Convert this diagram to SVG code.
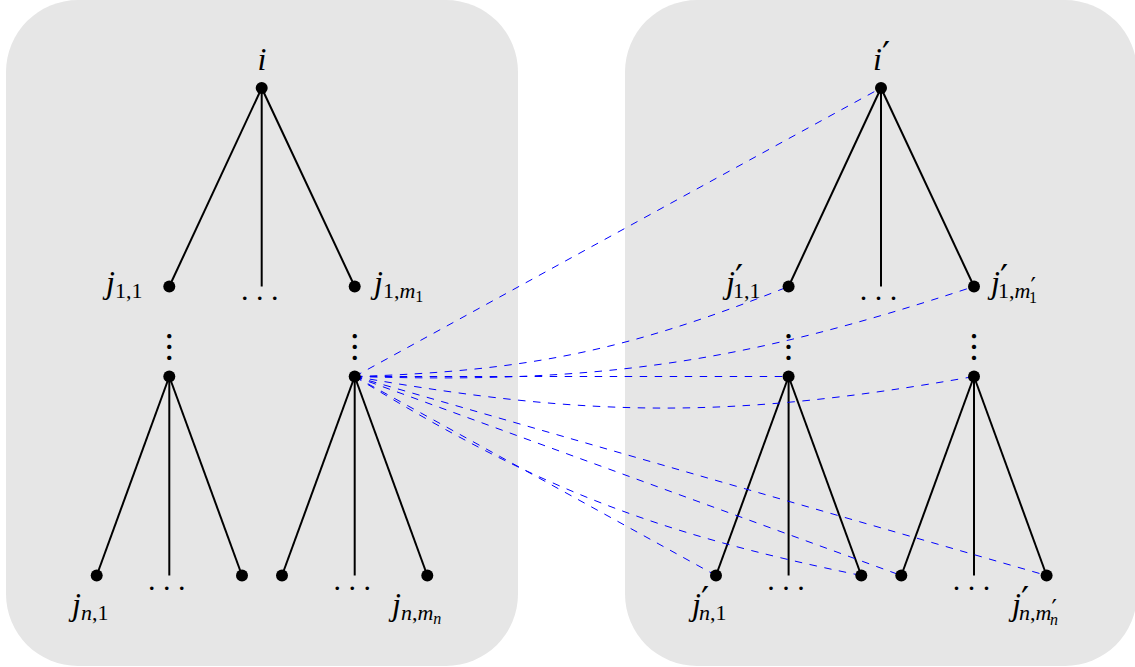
<svg xmlns="http://www.w3.org/2000/svg" width="1135" height="667" viewBox="0 0 1135 667">
<style>
.panel{fill:#e6e6e6;stroke:none}
.edge{stroke:#000;stroke-width:2;fill:none}
.dash{stroke:#0000ff;stroke-width:1;fill:none;stroke-dasharray:7.5 7.5}
.dot{fill:#000}
.lbl{font-family:"Liberation Serif","DejaVu Serif",serif;font-size:32px;font-style:italic;fill:#000}
.sub{font-size:22px}
.ssub{font-size:16px}
.rm{font-style:normal}
.pr{font-family:"DejaVu Sans",sans-serif;font-style:normal;font-size:36px}
.spr{font-family:"DejaVu Sans",sans-serif;font-style:normal;font-size:24px}
.ell{font-family:"Liberation Serif","DejaVu Serif",serif;font-size:30px;fill:#000;text-anchor:middle}
.vell{font-family:"Noto Sans CJK SC",sans-serif;font-size:32px;fill:#000;text-anchor:middle}
</style>
<g id="panels">
<rect class="panel" x="6" y="0" width="512" height="666" rx="72" ry="72"/>
<rect class="panel" x="625" y="0" width="512" height="666" rx="72" ry="72"/>
</g>
<g id="connectors">
<line class="edge" x1="261.7" y1="88" x2="169.3" y2="286.5"/>
<line class="edge" x1="261.7" y1="88" x2="261.7" y2="286.5"/>
<line class="edge" x1="261.7" y1="88" x2="354.7" y2="286.5"/>
<line class="edge" x1="169.3" y1="376.5" x2="96.7" y2="575.5"/>
<line class="edge" x1="169.3" y1="376.5" x2="169.3" y2="575.5"/>
<line class="edge" x1="169.3" y1="376.5" x2="242" y2="575.5"/>
<line class="edge" x1="354.7" y1="376.5" x2="282" y2="575.5"/>
<line class="edge" x1="354.7" y1="376.5" x2="354.7" y2="575.5"/>
<line class="edge" x1="354.7" y1="376.5" x2="427.3" y2="575.5"/>
<line class="edge" x1="881" y1="88" x2="788.6" y2="286.5"/>
<line class="edge" x1="881" y1="88" x2="881" y2="286.5"/>
<line class="edge" x1="881" y1="88" x2="974" y2="286.5"/>
<line class="edge" x1="788.6" y1="376.5" x2="716" y2="575.5"/>
<line class="edge" x1="788.6" y1="376.5" x2="788.6" y2="575.5"/>
<line class="edge" x1="788.6" y1="376.5" x2="861.3" y2="575.5"/>
<line class="edge" x1="974" y1="376.5" x2="901.3" y2="575.5"/>
<line class="edge" x1="974" y1="376.5" x2="974" y2="575.5"/>
<line class="edge" x1="974" y1="376.5" x2="1046.6" y2="575.5"/>
<line class="dash" x1="354.7" y1="376.5" x2="881" y2="88"/>
<path class="dash" d="M354.7,376.5 C527.8,371.2 627.7,350.7 788.6,286.5"/>
<path class="dash" d="M354.7,376.5 C599.5,383.9 741.4,363.3 974,286.5"/>
<line class="dash" x1="354.7" y1="376.5" x2="788.6" y2="376.5"/>
<path class="dash" d="M354.7,376.5 C593.3,418.6 735.4,418.6 974,376.5"/>
<line class="dash" x1="354.7" y1="376.5" x2="716" y2="575.5"/>
<path class="dash" d="M354.7,376.5 C535.9,487.5 653.1,533 861.3,575.5"/>
<line class="dash" x1="354.7" y1="376.5" x2="901.3" y2="575.5"/>
<line class="dash" x1="354.7" y1="376.5" x2="1046.6" y2="575.5"/>
</g>
<g id="ellipses">
<text class="ell" x="259.7" y="300">. . .</text>
<text class="ell" x="166.8" y="590">. . .</text>
<text class="ell" x="352.2" y="590">. . .</text>
<text class="ell" x="878.5" y="300">. . .</text>
<text class="ell" x="786.1" y="590">. . .</text>
<text class="ell" x="971.5" y="590">. . .</text>
<text class="vell" x="169.3" y="359">︙</text>
<text class="vell" x="354.7" y="359">︙</text>
<text class="vell" x="788.6" y="359">︙</text>
<text class="vell" x="974" y="359">︙</text>
</g>
<g id="node-i"><circle class="dot" cx="261.7" cy="88" r="6"/><text class="lbl" x="262" y="70" text-anchor="middle">i</text></g>
<g id="node-j11"><circle class="dot" cx="169.3" cy="286.5" r="6"/><text class="lbl" x="106" y="293">j<tspan class="sub rm" dy="5">1,1</tspan></text></g>
<g id="node-j1m1"><circle class="dot" cx="354.7" cy="286.5" r="6"/><text class="lbl" x="374" y="293">j<tspan class="sub rm" dy="5">1,</tspan><tspan class="sub">m</tspan><tspan class="ssub rm" dy="4">1</tspan></text></g>
<g id="node-mid1"><circle class="dot" cx="169.3" cy="376.5" r="6"/></g>
<g id="node-midm"><circle class="dot" cx="354.7" cy="376.5" r="6"/></g>
<g id="node-jn1"><circle class="dot" cx="96.7" cy="575.5" r="6"/><text class="lbl" x="72" y="615">j<tspan class="sub" dy="5">n</tspan><tspan class="sub rm">,1</tspan></text></g>
<g id="node-leaf-a"><circle class="dot" cx="242" cy="575.5" r="6"/></g>
<g id="node-leaf-b"><circle class="dot" cx="282" cy="575.5" r="6"/></g>
<g id="node-jnmn"><circle class="dot" cx="427.3" cy="575.5" r="6"/><text class="lbl" x="392" y="615">j<tspan class="sub" dy="5">n</tspan><tspan class="sub rm">,</tspan><tspan class="sub">m</tspan><tspan class="ssub" dy="4">n</tspan></text></g>
<g id="node-ip"><circle class="dot" cx="881" cy="88" r="6"/><text class="lbl" x="873" y="70">i<tspan class="pr" dy="-3">′</tspan></text></g>
<g id="node-jp11"><circle class="dot" cx="788.6" cy="286.5" r="6"/><text class="lbl" x="726" y="293">j<tspan class="pr" dy="-3">′</tspan><tspan class="sub rm" dx="-10" dy="8">1,1</tspan></text></g>
<g id="node-jp1m1"><circle class="dot" cx="974" cy="286.5" r="6"/><text class="lbl" x="991" y="293">j<tspan class="pr" dy="-3">′</tspan><tspan class="sub rm" dx="-10" dy="8">1,</tspan><tspan class="sub">m</tspan><tspan class="spr" dy="-3">′</tspan><tspan class="ssub rm" dx="-7" dy="8">1</tspan></text></g>
<g id="node-midp1"><circle class="dot" cx="788.6" cy="376.5" r="6"/></g>
<g id="node-midpm"><circle class="dot" cx="974" cy="376.5" r="6"/></g>
<g id="node-jpn1"><circle class="dot" cx="716" cy="575.5" r="6"/><text class="lbl" x="692" y="615">j<tspan class="pr" dy="-3">′</tspan><tspan class="sub" dx="-10" dy="8">n</tspan><tspan class="sub rm">,1</tspan></text></g>
<g id="node-leafp-a"><circle class="dot" cx="861.3" cy="575.5" r="6"/></g>
<g id="node-leafp-b"><circle class="dot" cx="901.3" cy="575.5" r="6"/></g>
<g id="node-jpnmn"><circle class="dot" cx="1046.6" cy="575.5" r="6"/><text class="lbl" x="1012" y="615">j<tspan class="pr" dy="-3">′</tspan><tspan class="sub" dx="-10" dy="8">n</tspan><tspan class="sub rm">,</tspan><tspan class="sub">m</tspan><tspan class="spr" dy="-3">′</tspan><tspan class="ssub" dx="-7" dy="8">n</tspan></text></g>
</svg>
